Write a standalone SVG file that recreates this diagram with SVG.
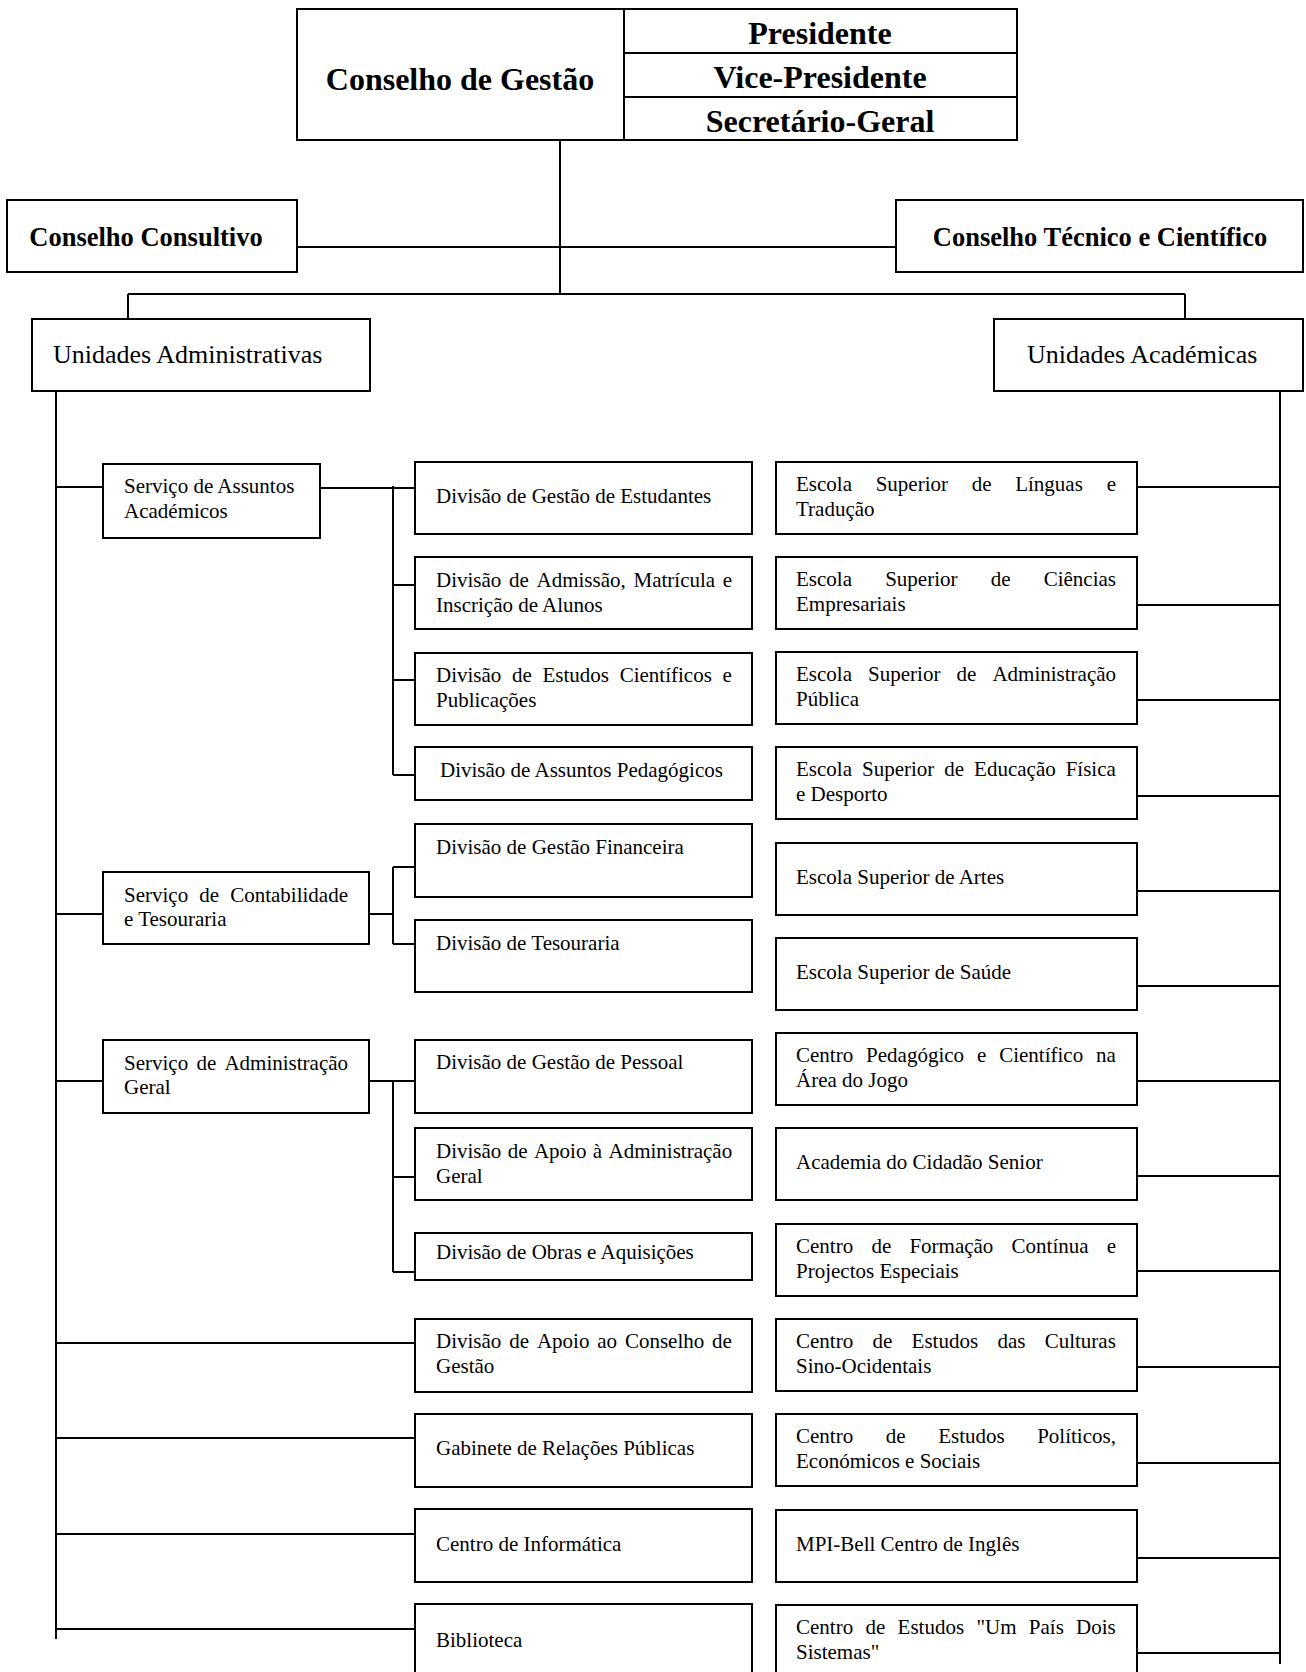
<svg xmlns="http://www.w3.org/2000/svg" width="1306" height="1672" viewBox="0 0 1306 1672">
<style>
.box{fill:#fff;stroke:#000;stroke-width:2}
.ln{stroke:#000;stroke-width:2;fill:none}
text{font-family:"Liberation Serif","Times New Roman",serif;fill:#000}
.t{font-size:21px}
.h{font-size:26px}
.hb{font-size:26.5px;font-weight:bold}
.top{font-size:32px;font-weight:bold}
</style>
<rect width="1306" height="1672" fill="#fff"/>
<g id="connectors">
<path class="ln" d="M560 141V294M297 247H896M128 294H1185M128 294V319M1185 294V319"/>
<path class="ln" d="M56 391V1639M1280 391V1664"/>
<path class="ln" d="M56 487H103M320 488H415M393 486V775M393 585H415M393 680H415M393 775H415"/>
<path class="ln" d="M56 914H103M369 914H393M393 867V944M393 867H415M393 944H415"/>
<path class="ln" d="M56 1081H103M369 1081H415M393 1081V1272M393 1177H415M393 1272H415"/>
<path class="ln" d="M56 1343H415M56 1438H415M56 1534H415M56 1629H415"/>
<path class="ln" d="M1137 487H1280M1137 605H1280M1137 700H1280M1137 796H1280M1137 891H1280M1137 986H1280M1137 1081H1280M1137 1176H1280M1137 1271H1280M1137 1367H1280M1137 1463H1280M1137 1558H1280M1137 1653H1280"/>
</g>
<g id="conselho-gestao">
<rect class="box" x="297" y="9" width="720" height="131"/>
<path class="ln" d="M624 9V140M624 53H1017M624 97H1017"/>
<text class="top" x="460" y="90" text-anchor="middle">Conselho de Gestão</text>
<text class="top" x="820" y="44" text-anchor="middle">Presidente</text>
<text class="top" x="820" y="88" text-anchor="middle">Vice-Presidente</text>
<text class="top" x="820" y="132" text-anchor="middle">Secretário-Geral</text>
</g>
<g id="conselho-consultivo">
<rect class="box" x="7" y="200" width="290" height="72"/>
<text class="hb" x="146" y="246" text-anchor="middle">Conselho Consultivo</text>
</g>
<g id="conselho-tecnico">
<rect class="box" x="896" y="200" width="407" height="72"/>
<text class="hb" x="1100" y="246" text-anchor="middle">Conselho Técnico e Científico</text>
</g>
<g id="unidades-administrativas">
<rect class="box" x="32" y="319" width="338" height="72"/>
<text class="h" x="53" y="363">Unidades Administrativas</text>
</g>
<g id="unidades-academicas">
<rect class="box" x="994" y="319" width="309" height="72"/>
<text class="h" x="1027" y="363">Unidades Académicas</text>
</g>
<g id="servico-assuntos-academicos">
<rect class="box" x="103" y="464" width="217" height="74"/>
<text class="t" x="124" y="493">Serviço de Assuntos</text>
<text class="t" x="124" y="518">Académicos</text>
</g>
<g id="servico-contabilidade">
<rect class="box" x="103" y="872" width="266" height="72"/>
<text class="t" y="902"><tspan x="124">Serviço</tspan><tspan x="199.3">de</tspan><tspan x="230.2">Contabilidade</tspan></text>
<text class="t" x="124" y="926">e Tesouraria</text>
</g>
<g id="servico-administracao">
<rect class="box" x="103" y="1040" width="266" height="73"/>
<text class="t" y="1070"><tspan x="124">Serviço</tspan><tspan x="196.4">de</tspan><tspan x="224.4">Administração</tspan></text>
<text class="t" x="124" y="1094">Geral</text>
</g>
<g id="div-gestao-estudantes">
<rect class="box" x="415" y="462" width="337" height="72"/>
<text class="t" x="436" y="503">Divisão de Gestão de Estudantes</text>
</g>
<g id="div-admissao">
<rect class="box" x="415" y="557" width="337" height="72"/>
<text class="t" y="587"><tspan x="436">Divisão</tspan><tspan x="509">de</tspan><tspan x="536.5">Admissão,</tspan><tspan x="633.5">Matrícula</tspan><tspan x="722.7">e</tspan></text>
<text class="t" x="436" y="612">Inscrição de Alunos</text>
</g>
<g id="div-estudos-cientificos">
<rect class="box" x="415" y="653" width="337" height="72"/>
<text class="t" y="682"><tspan x="436">Divisão</tspan><tspan x="512">de</tspan><tspan x="542.5">Estudos</tspan><tspan x="619.7">Científicos</tspan><tspan x="722.6">e</tspan></text>
<text class="t" x="436" y="707">Publicações</text>
</g>
<g id="div-assuntos-pedagogicos">
<rect class="box" x="415" y="747" width="337" height="53"/>
<text class="t" x="440" y="777">Divisão de Assuntos Pedagógicos</text>
</g>
<g id="div-gestao-financeira">
<rect class="box" x="415" y="824" width="337" height="73"/>
<text class="t" x="436" y="854">Divisão de Gestão Financeira</text>
</g>
<g id="div-tesouraria">
<rect class="box" x="415" y="920" width="337" height="72"/>
<text class="t" x="436" y="950">Divisão de Tesouraria</text>
</g>
<g id="div-gestao-pessoal">
<rect class="box" x="415" y="1040" width="337" height="73"/>
<text class="t" x="436" y="1069">Divisão de Gestão de Pessoal</text>
</g>
<g id="div-apoio-administracao">
<rect class="box" x="415" y="1128" width="337" height="72"/>
<text class="t" y="1158"><tspan x="436">Divisão</tspan><tspan x="507.7">de</tspan><tspan x="533.9">Apoio</tspan><tspan x="592.8">à</tspan><tspan x="608.5">Administração</tspan></text>
<text class="t" x="436" y="1183">Geral</text>
</g>
<g id="div-obras">
<rect class="box" x="415" y="1233" width="337" height="47"/>
<text class="t" x="436" y="1259">Divisão de Obras e Aquisições</text>
</g>
<g id="div-apoio-conselho">
<rect class="box" x="415" y="1319" width="337" height="73"/>
<text class="t" y="1348"><tspan x="436">Divisão</tspan><tspan x="509.2">de</tspan><tspan x="536.9">Apoio</tspan><tspan x="597.3">ao</tspan><tspan x="624.9">Conselho</tspan><tspan x="712.1">de</tspan></text>
<text class="t" x="436" y="1373">Gestão</text>
</g>
<g id="gabinete-relacoes-publicas">
<rect class="box" x="415" y="1414" width="337" height="73"/>
<text class="t" x="436" y="1455">Gabinete de Relações Públicas</text>
</g>
<g id="centro-informatica">
<rect class="box" x="415" y="1509" width="337" height="73"/>
<text class="t" x="436" y="1551">Centro de Informática</text>
</g>
<g id="biblioteca">
<rect class="box" x="415" y="1604" width="337" height="73"/>
<text class="t" x="436" y="1647">Biblioteca</text>
</g>
<g id="esc-linguas">
<rect class="box" x="776" y="462" width="361" height="72"/>
<text class="t" y="491"><tspan x="796">Escola</tspan><tspan x="875.7">Superior</tspan><tspan x="971.7">de</tspan><tspan x="1015.2">Línguas</tspan><tspan x="1106.7">e</tspan></text>
<text class="t" x="796" y="516">Tradução</text>
</g>
<g id="esc-ciencias-empresariais">
<rect class="box" x="776" y="557" width="361" height="72"/>
<text class="t" y="586"><tspan x="796">Escola</tspan><tspan x="885.2">Superior</tspan><tspan x="990.7">de</tspan><tspan x="1043.7">Ciências</tspan></text>
<text class="t" x="796" y="611">Empresariais</text>
</g>
<g id="esc-administracao-publica">
<rect class="box" x="776" y="652" width="361" height="72"/>
<text class="t" y="681"><tspan x="796">Escola</tspan><tspan x="868.1">Superior</tspan><tspan x="956.5">de</tspan><tspan x="992.4">Administração</tspan></text>
<text class="t" x="796" y="706">Pública</text>
</g>
<g id="esc-educacao-fisica">
<rect class="box" x="776" y="747" width="361" height="72"/>
<text class="t" y="776"><tspan x="796">Escola</tspan><tspan x="862">Superior</tspan><tspan x="944.3">de</tspan><tspan x="974.1">Educação</tspan><tspan x="1065.7">Física</tspan></text>
<text class="t" x="796" y="801">e Desporto</text>
</g>
<g id="esc-artes">
<rect class="box" x="776" y="843" width="361" height="72"/>
<text class="t" x="796" y="884">Escola Superior de Artes</text>
</g>
<g id="esc-saude">
<rect class="box" x="776" y="938" width="361" height="72"/>
<text class="t" x="796" y="979">Escola Superior de Saúde</text>
</g>
<g id="centro-jogo">
<rect class="box" x="776" y="1033" width="361" height="72"/>
<text class="t" y="1062"><tspan x="796">Centro</tspan><tspan x="866.1">Pedagógico</tspan><tspan x="977">e</tspan><tspan x="999.2">Científico</tspan><tspan x="1096.1">na</tspan></text>
<text class="t" x="796" y="1087">Área do Jogo</text>
</g>
<g id="academia-cidadao-senior">
<rect class="box" x="776" y="1128" width="361" height="72"/>
<text class="t" x="796" y="1169">Academia do Cidadão Senior</text>
</g>
<g id="centro-formacao-continua">
<rect class="box" x="776" y="1224" width="361" height="72"/>
<text class="t" y="1253"><tspan x="796">Centro</tspan><tspan x="871.4">de</tspan><tspan x="909.4">Formação</tspan><tspan x="1011.6">Contínua</tspan><tspan x="1106.7">e</tspan></text>
<text class="t" x="796" y="1278">Projectos Especiais</text>
</g>
<g id="centro-culturas">
<rect class="box" x="776" y="1319" width="361" height="72"/>
<text class="t" y="1348"><tspan x="796">Centro</tspan><tspan x="872.5">de</tspan><tspan x="911.6">Estudos</tspan><tspan x="997.4">das</tspan><tspan x="1044.7">Culturas</tspan></text>
<text class="t" x="796" y="1373">Sino-Ocidentais</text>
</g>
<g id="centro-politicos">
<rect class="box" x="776" y="1414" width="361" height="72"/>
<text class="t" y="1443"><tspan x="796">Centro</tspan><tspan x="885.8">de</tspan><tspan x="938.2">Estudos</tspan><tspan x="1037.2">Políticos,</tspan></text>
<text class="t" x="796" y="1468">Económicos e Sociais</text>
</g>
<g id="mpi-bell">
<rect class="box" x="776" y="1510" width="361" height="72"/>
<text class="t" x="796" y="1551">MPI-Bell Centro de Inglês</text>
</g>
<g id="centro-um-pais">
<rect class="box" x="776" y="1605" width="361" height="72"/>
<text class="t" y="1634"><tspan x="796">Centro</tspan><tspan x="865.5">de</tspan><tspan x="897.6">Estudos</tspan><tspan x="976.4">"Um</tspan><tspan x="1028.8">País</tspan><tspan x="1076.1">Dois</tspan></text>
<text class="t" x="796" y="1659">Sistemas"</text>
</g>
</svg>
